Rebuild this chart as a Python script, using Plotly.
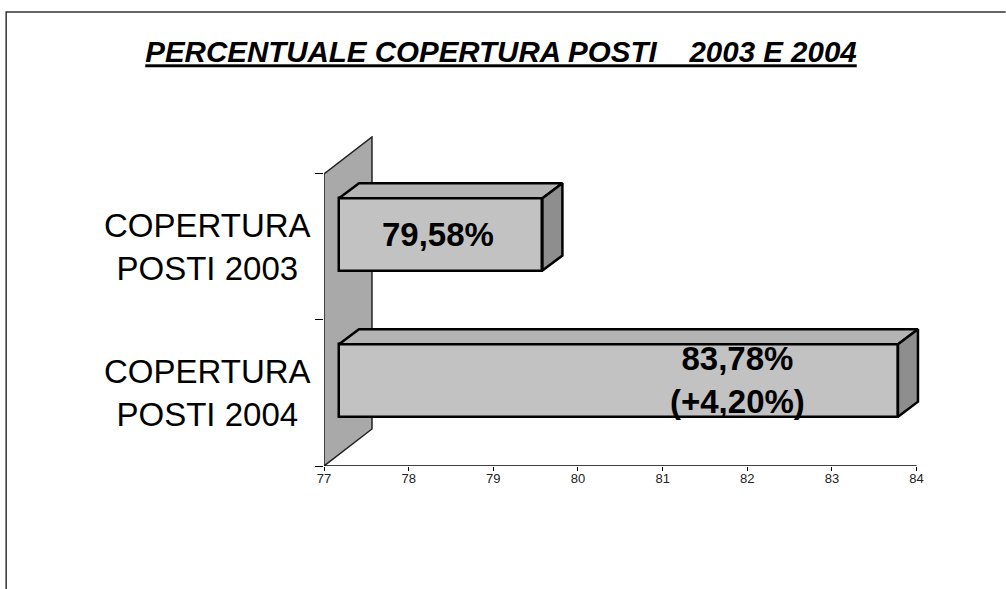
"""3D-style horizontal bar chart: percentuale copertura posti 2003 e 2004."""

import plotly.graph_objects as go

CATEGORIES = ["COPERTURA<br>POSTI 2003", "COPERTURA<br>POSTI 2004"]
VALUES = [79.58, 83.78]
VALUE_LABELS = ["79,58%", "83,78%<br>(+4,20%)"]
X_TICKS = [77, 78, 79, 80, 81, 82, 83, 84]
TITLE = "PERCENTUALE COPERTURA POSTI\u00a0\u00a0\u00a0 2003 E 2004"

FONT = "Arial, 'Liberation Sans', sans-serif"

# pixel geometry of the plot area
W, H = 1006, 589
PX_PER_X = 84.7      # px per axis unit
PX_PER_Y = 146.0     # px per category
X_MIN, X_MAX = 77, 84.3
Y_MIN, Y_MAX = -0.5, 1.76
LEFT = 324
BOTTOM = 466
RIGHT = LEFT + (X_MAX - X_MIN) * PX_PER_X
TOP = BOTTOM - (Y_MAX - Y_MIN) * PX_PER_Y

# 3D depth offsets (in axis units)
WALL_DX, WALL_DY = 48 / PX_PER_X, 37 / PX_PER_Y
BAR_DX, BAR_DY = 20 / PX_PER_X, 15 / PX_PER_Y
BAR_SHIFT_X, BAR_SHIFT_Y = 15 / PX_PER_X, 12.5 / PX_PER_Y
BAR_H = 0.495

FRONT = "#c2c2c2"
TOPC = "#b4b4b4"
SIDE = "#8e8e8e"
WALL = "#a9a9a9"


def to_paper(px, py):
    return (px - LEFT) / (RIGHT - LEFT), (BOTTOM - py) / (BOTTOM - TOP)


n = len(CATEGORIES)
ypos = [n - 1 - i for i in range(n)]
base = X_MIN + BAR_SHIFT_X
bar_y = [y + BAR_SHIFT_Y for y in ypos]

fig = go.Figure()

# front faces
fig.add_trace(go.Bar(
    y=bar_y, x=[v - base for v in VALUES], base=base, orientation="h",
    width=BAR_H, marker=dict(color=FRONT, line=dict(color="black", width=2.5)),
    hoverinfo="skip", showlegend=False,
))

# top and side faces
for v, yc in zip(VALUES, bar_y):
    yt, yb = yc + BAR_H / 2, yc - BAR_H / 2
    fig.add_trace(go.Scatter(
        x=[base, v, v + BAR_DX, base + BAR_DX, base],
        y=[yt, yt, yt + BAR_DY, yt + BAR_DY, yt],
        fill="toself", fillcolor=TOPC, mode="lines",
        line=dict(color="black", width=2.5), hoverinfo="skip", showlegend=False,
    ))
    fig.add_trace(go.Scatter(
        x=[v, v + BAR_DX, v + BAR_DX, v, v],
        y=[yb, yb + BAR_DY, yt + BAR_DY, yt, yb],
        fill="toself", fillcolor=SIDE, mode="lines",
        line=dict(color="black", width=2.5), hoverinfo="skip", showlegend=False,
    ))

# side wall
wall = (f"M {X_MIN},{Y_MIN} L {X_MIN},{1.5} L {X_MIN + WALL_DX},{1.5 + WALL_DY} "
        f"L {X_MIN + WALL_DX},{Y_MIN + WALL_DY} Z")
shapes = [
    dict(type="path", path=wall, xref="x", yref="y", fillcolor=WALL,
         line=dict(color="#222", width=1.5), layer="below"),
    dict(type="line", xref="x", yref="y", x0=X_MIN, x1=84, y0=Y_MIN, y1=Y_MIN,
         line=dict(color="black", width=1.5)),
]
# page frame (left and top edges)
fx0, fy0 = to_paper(6, 12)
fx1, fy1 = to_paper(6, 589)
fx2, _ = to_paper(1006, 12)
shapes.append(dict(type="path", xref="paper", yref="paper",
                   path=f"M {fx1},{fy1} L {fx0},{fy0} L {fx2},{fy0}",
                   line=dict(color="#333", width=1.5)))

# value labels
label_x = [78.35, 81.88]
annotations = [
    dict(x=lx, y=yc, text=f"<b>{t}</b>", showarrow=False,
         font=dict(family=FONT, size=33, color="black"))
    for lx, yc, t in zip(label_x, bar_y, VALUE_LABELS)
]
# category labels, centred lines
cx, _ = to_paper(313, 0)
for y, cat in zip(ypos, CATEGORIES):
    annotations.append(dict(
        x=cx, xref="paper", y=y, yref="y", text=cat, showarrow=False,
        xanchor="right", align="center",
        font=dict(family=FONT, size=33, color="black"),
    ))

fig.update_layout(
    width=W, height=H,
    margin=dict(l=LEFT, r=W - RIGHT, t=TOP, b=H - BOTTOM),
    paper_bgcolor="white", plot_bgcolor="white",
    title=dict(text=f"<b><i><u>{TITLE}</u></i></b>", x=501 / W, xref="container",
               xanchor="center", y=1 - 52 / H, yanchor="middle",
               font=dict(family=FONT, size=29.5, color="black")),
    xaxis=dict(range=[X_MIN, X_MAX], tickmode="array", tickvals=X_TICKS,
               ticks="outside", ticklen=4, tickcolor="black", showgrid=False,
               zeroline=False, showline=False, ticklabelstandoff=-4,
               tickfont=dict(family=FONT, size=13, color="#222")),
    yaxis=dict(range=[Y_MIN, Y_MAX], tickmode="array", tickvals=ypos,
               showticklabels=False, ticks="", showgrid=False, zeroline=False,
               showline=False,
               minor=dict(tickmode="array", tickvals=[-0.5, 0.5, 1.5],
                          ticks="outside", ticklen=8, tickcolor="black")),
    shapes=shapes, annotations=annotations,
    bargap=0,
)

fig.write_html("out.html", config={"displayModeBar": False},
               post_script="document.body.style.margin='0';")
